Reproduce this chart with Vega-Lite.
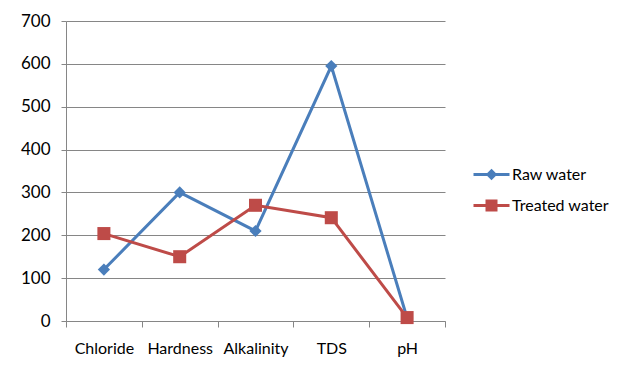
{
  "$schema": "https://vega.github.io/schema/vega-lite/v6.json",
  "width": 379,
  "height": 300,
  "autosize": {"type": "none"},
  "padding": {"left": 66, "top": 21, "right": 189, "bottom": 60},
  "background": "white",
  "config": {
    "font": "Lato",
    "view": {"stroke": null},
    "axis": {"labelFont": "Lato", "labelColor": "#000000", "labelFontSize": 16, "domainColor": "#868686", "tickColor": "#868686", "gridColor": "#868686", "titleFont": "Lato"}
  },
  "data": {
    "values": [
      {"param": "Chloride", "series": "Raw water", "value": 120},
      {"param": "Hardness", "series": "Raw water", "value": 300},
      {"param": "Alkalinity", "series": "Raw water", "value": 210},
      {"param": "TDS", "series": "Raw water", "value": 595},
      {"param": "pH", "series": "Raw water", "value": 7},
      {"param": "Chloride", "series": "Treated water", "value": 204},
      {"param": "Hardness", "series": "Treated water", "value": 150},
      {"param": "Alkalinity", "series": "Treated water", "value": 270},
      {"param": "TDS", "series": "Treated water", "value": 241},
      {"param": "pH", "series": "Treated water", "value": 8}
    ]
  },
  "encoding": {
    "x": {
      "field": "param", "type": "nominal", "sort": null, "title": null,
      "scale": {"type": "band", "paddingInner": 0, "paddingOuter": 0},
      "axis": {"labelAngle": 0, "tickBand": "extent", "tickSize": 6, "labelPadding": 13, "domainWidth": 1, "grid": false}
    },
    "y": {
      "field": "value", "type": "quantitative", "title": null,
      "scale": {"domain": [0, 700], "nice": false},
      "axis": {"values": [0, 100, 200, 300, 400, 500, 600, 700], "tickSize": 5, "labelPadding": 11, "labelFontSize": 17, "grid": true, "gridWidth": 1, "domain": true}
    },
    "color": {
      "field": "series", "type": "nominal", "title": null,
      "scale": {"domain": ["Raw water", "Treated water"], "range": ["#4A7EBB", "#BE4B48"]},
      "legend": {
        "orient": "none", "legendX": 406, "legendY": 134,
        "labelFont": "Lato", "labelFontSize": 16, "labelColor": "#000000",
        "symbolType": "M-1,0H1", "symbolSize": 1296, "symbolStrokeWidth": 3, "rowPadding": 1, "labelOffset": 1,
        "encode": {
          "symbols": {
            "update": {
              "shape": {"signal": "datum.value === 'Raw water' ? 'M-1,0H1M0,-0.2L0.2,0L0,0.2L-0.2,0Z' : 'M-1,0H1M-0.25,-0.25H0.25V0.25H-0.25Z'"},
              "fill": {"signal": "scale('color', datum.value)"},
              "stroke": {"signal": "scale('color', datum.value)"},
              "strokeWidth": {"value": 3},
              "opacity": {"value": 1}
            }
          }
        }
      }
    }
  },
  "layer": [
    {
      "mark": {"type": "line", "strokeWidth": 3}
    },
    {
      "transform": [{"filter": "datum.series === 'Raw water'"}],
      "mark": {"type": "point", "filled": true, "opacity": 1, "shape": "diamond", "size": 150}
    },
    {
      "transform": [{"filter": "datum.series === 'Treated water'"}],
      "mark": {"type": "point", "filled": true, "opacity": 1, "shape": "square", "size": 170}
    }
  ]
}
